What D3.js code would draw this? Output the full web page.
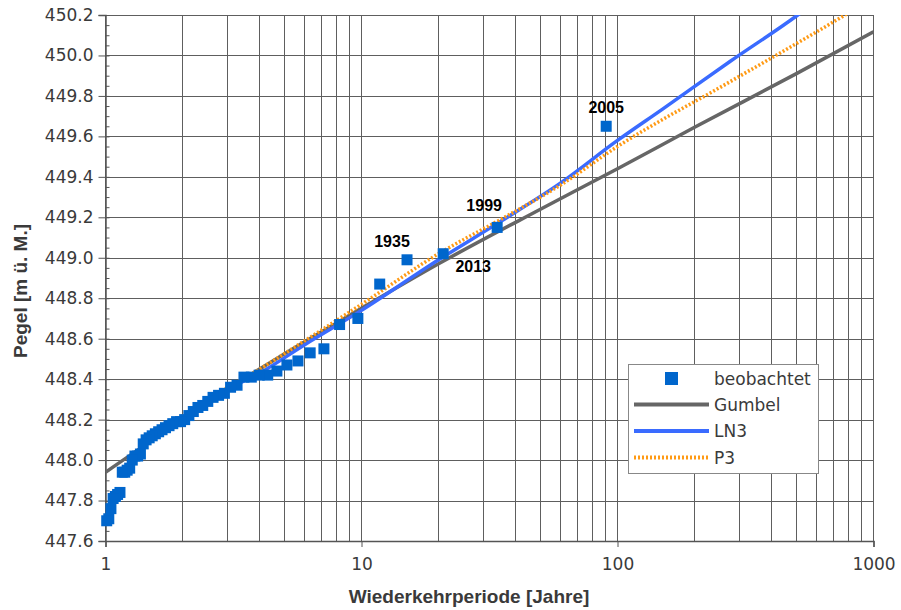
<!DOCTYPE html>
<html>
<head>
<meta charset="utf-8">
<script src="https://cdn.jsdelivr.net/npm/d3@7"></script>
<style>
  body { margin: 0; background: #fff; }
</style>
</head>
<body>
<svg id="chart" width="901" height="610"></svg>
<script>
// beobachtete Hochwasser: Wiederkehrperiode (Plotting Position) und Pegel
var obsT = [90.33, 33.88, 20.85, 15.06, 11.78, 9.679, 8.212, 7.132, 6.302, 5.646,
    5.113, 4.672, 4.302, 3.985, 3.712, 3.474, 3.265, 3.080, 2.914, 2.765,
    2.631, 2.509, 2.398, 2.297, 2.203, 2.117, 2.038, 1.964, 1.895, 1.831,
    1.771, 1.715, 1.663, 1.613, 1.566, 1.522, 1.481, 1.441, 1.404, 1.369,
    1.335, 1.303, 1.272, 1.243, 1.215, 1.189, 1.163, 1.139, 1.115, 1.093,
    1.071, 1.050, 1.030, 1.011];
var obsY = [449.65, 449.15, 449.02, 448.99, 448.87, 448.70, 448.67, 448.55, 448.53, 448.49,
    448.47, 448.44, 448.42, 448.42, 448.41, 448.41, 448.37, 448.36, 448.33, 448.32,
    448.31, 448.29, 448.27, 448.26, 448.24, 448.22, 448.20, 448.19, 448.19, 448.18,
    448.17, 448.16, 448.15, 448.14, 448.13, 448.12, 448.11, 448.10, 448.08, 448.03,
    448.02, 448.02, 448.00, 447.96, 447.95, 447.94, 447.94, 447.84, 447.83, 447.82,
    447.81, 447.76, 447.71, 447.70];

// beschriftete Ereignisse (Rang in obsT/obsY)
var labelYears = ["2005", "1999", "2013", "1935"];
var labelRank = [0, 1, 2, 3];

// Verteilungsfunktionen
var gumbelT = [1, 2, 4, 10, 20, 50, 100, 200, 500, 1000];
var gumbelY = [447.94, 448.20, 448.45, 448.75, 448.97, 449.24, 449.44, 449.645, 449.91, 450.117];

var ln3T = [1.25, 1.3, 1.6, 2, 3, 4, 6, 10, 20, 35, 60, 100, 150, 275, 506, 600];
var ln3Y = [447.97, 448.01, 448.13, 448.21, 448.35, 448.43, 448.57, 448.74,
    448.99, 449.18, 449.37, 449.58, 449.735, 449.97, 450.2, 450.27];

var p3T = [1.25, 1.3, 1.6, 2, 3, 4, 6, 10, 20, 35, 60, 100, 275, 774, 900];
var p3Y = [447.97, 448.01, 448.13, 448.22, 448.36, 448.45, 448.59, 448.77,
    449.02, 449.19, 449.36, 449.55, 449.87, 450.2, 450.25];

var xTicks = [1, 10, 100, 1000];
var yTicks = [447.6, 447.8, 448.0, 448.2, 448.4, 448.6, 448.8, 449.0, 449.2, 449.4, 449.6, 449.8, 450.0, 450.2];

var legendNames = ["beobachtet", "Gumbel", "LN3", "P3"];

var svg = d3.select("#chart");
var plotL = 105.5, plotR = 873.5, plotT = 15, plotB = 541;

var x = d3.scaleLog().domain([1, 1000]).range([plotL, plotR]);
var y = d3.scaleLinear().domain([447.6, 450.2]).range([plotB, plotT]);

svg.append("rect").attr("width", 901).attr("height", 610).attr("fill", "#fff");

// Gitter
var grid = svg.append("g").attr("stroke", "#5e5e5e").attr("stroke-width", 1);
grid.selectAll("line.v").data(x.ticks()).enter().append("line")
    .attr("class", "v")
    .attr("x1", function(d) { return Math.round(x(d) - 0.5) + 0.5; })
    .attr("x2", function(d) { return Math.round(x(d) - 0.5) + 0.5; })
    .attr("y1", plotT).attr("y2", plotB);
grid.selectAll("line.h").data(yTicks).enter().append("line")
    .attr("class", "h")
    .attr("x1", plotL).attr("x2", plotR)
    .attr("y1", function(d) { return Math.round(y(d)) + 0.5; })
    .attr("y2", function(d) { return Math.round(y(d)) + 0.5; });

// Achsen
var yAxis = svg.append("g")
    .attr("transform", "translate(" + plotL + ",0)")
    .call(d3.axisLeft(y).tickValues(yTicks).tickSize(7).tickPadding(5).tickFormat(d3.format(".1f")));
var yMinor = svg.append("g")
    .attr("transform", "translate(" + plotL + ",0)")
    .call(d3.axisRight(y).tickValues(d3.range(447.65, 450.2, 0.05)).tickSize(4).tickFormat(""));
var xAxis = svg.append("g")
    .attr("transform", "translate(0," + plotB + ")")
    .call(d3.axisBottom(x).tickValues(xTicks).tickSize(6).tickPadding(11).tickFormat(d3.format("d")));

[yAxis, yMinor, xAxis].forEach(function(a) {
    a.select(".domain").attr("stroke", "#555").attr("stroke-width", 1.5);
    a.selectAll(".tick line").attr("stroke", "#555");
    a.selectAll("text")
        .attr("font-family", "DejaVu Sans")
        .attr("font-size", 17)
        .attr("fill", "#3a3a3a");
});
yMinor.select(".domain").remove();

// Achsentitel
svg.append("text")
    .attr("x", 469).attr("y", 603)
    .attr("text-anchor", "middle")
    .attr("font-family", "Liberation Sans").attr("font-weight", "bold").attr("font-size", 19)
    .attr("fill", "#3a3a3a")
    .text("Wiederkehrperiode [Jahre]");
svg.append("text")
    .attr("transform", "translate(27,291) rotate(-90)")
    .attr("text-anchor", "middle")
    .attr("font-family", "Liberation Sans").attr("font-weight", "bold").attr("font-size", 19)
    .attr("fill", "#3a3a3a")
    .text("Pegel [m ü. M.]");

// Kurven
svg.append("clipPath").attr("id", "plot")
    .append("rect").attr("x", plotL).attr("y", plotT)
    .attr("width", plotR - plotL).attr("height", plotB - plotT);

var line = d3.line()
    .x(function(d) { return x(d[0]); })
    .y(function(d) { return y(d[1]); })
    .curve(d3.curveMonotoneX);

var curves = svg.append("g").attr("clip-path", "url(#plot)").attr("fill", "none");
curves.append("path")
    .attr("d", line(d3.zip(gumbelT, gumbelY)))
    .attr("stroke", "#666666").attr("stroke-width", 3.5);
curves.append("path")
    .attr("d", line(d3.zip(ln3T, ln3Y)))
    .attr("stroke", "#3a6bff").attr("stroke-width", 3.5);
curves.append("path")
    .attr("d", line(d3.zip(p3T, p3Y)))
    .attr("stroke", "#ff9a14").attr("stroke-width", 3.5)
    .attr("stroke-dasharray", "2,2");

// beobachtete Werte
var s = 11;
svg.append("g").selectAll("rect").data(d3.zip(obsT, obsY)).enter().append("rect")
    .attr("x", function(d) { return x(d[0]) - s / 2; })
    .attr("y", function(d) { return y(d[1]) - s / 2; })
    .attr("width", s).attr("height", s)
    .attr("fill", "#0066cc");

// Jahreszahlen
var labelOffset = [[0, -13], [-13, -16], [30, 18], [-15, -13]];
svg.append("g").selectAll("text").data(labelYears).enter().append("text")
    .attr("x", function(d, i) { return x(obsT[labelRank[i]]) + labelOffset[i][0]; })
    .attr("y", function(d, i) { return y(obsY[labelRank[i]]) + labelOffset[i][1]; })
    .attr("text-anchor", "middle")
    .attr("font-family", "Liberation Sans").attr("font-weight", "bold").attr("font-size", 16)
    .attr("fill", "#000")
    .text(function(d) { return d; });

// Legende
var lg = svg.append("g").attr("transform", "translate(628,364)");
lg.append("rect").attr("x", 0.5).attr("y", 0.5).attr("width", 190).attr("height", 109)
    .attr("fill", "#fff").attr("stroke", "#888");
var rowY = [14.5, 40.5, 67, 93.5];
lg.append("rect").attr("x", 37).attr("y", rowY[0] - 6.5).attr("width", 13).attr("height", 13)
    .attr("fill", "#0066cc");
lg.append("line").attr("x1", 6).attr("x2", 81).attr("y1", rowY[1]).attr("y2", rowY[1])
    .attr("stroke", "#666666").attr("stroke-width", 4);
lg.append("line").attr("x1", 6).attr("x2", 81).attr("y1", rowY[2]).attr("y2", rowY[2])
    .attr("stroke", "#3a6bff").attr("stroke-width", 4);
lg.append("line").attr("x1", 6).attr("x2", 81).attr("y1", rowY[3]).attr("y2", rowY[3])
    .attr("stroke", "#ff9a14").attr("stroke-width", 4).attr("stroke-dasharray", "2,2");
lg.selectAll("text").data(legendNames).enter().append("text")
    .attr("x", 86)
    .attr("y", function(d, i) { return rowY[i]; })
    .attr("dy", "0.36em")
    .attr("font-family", "DejaVu Sans").attr("font-size", 17)
    .attr("fill", "#3a3a3a")
    .text(function(d) { return d; });
</script>
</body>
</html>
